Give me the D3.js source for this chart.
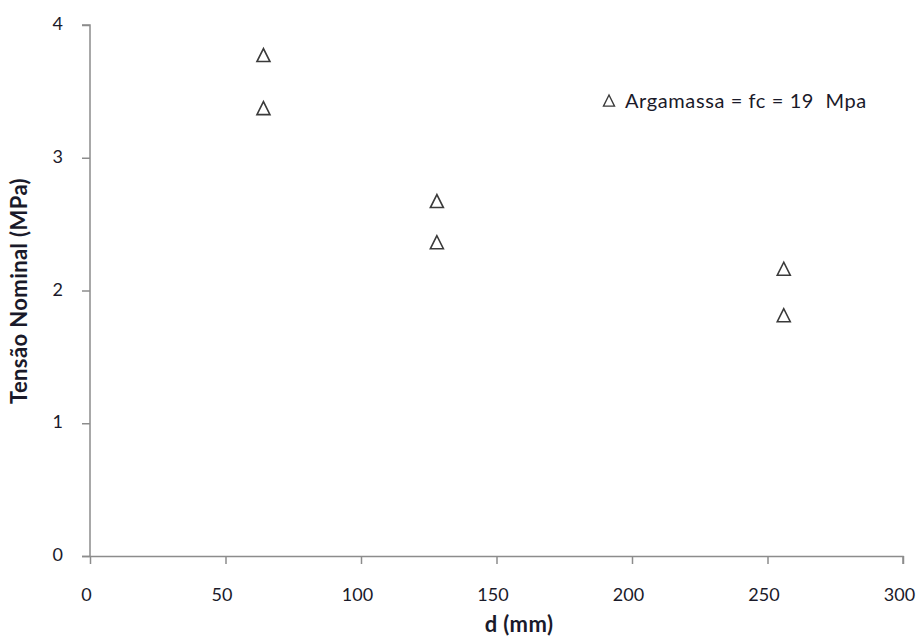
<!DOCTYPE html>
<html>
<head>
<meta charset="utf-8">
<script src="https://cdn.jsdelivr.net/npm/d3@7/dist/d3.min.js"></script>
<style>
  html, body { margin: 0; padding: 0; background: #fff; }
  svg { display: block; }
  text { font-family: Lato, "Open Sans", sans-serif; fill: #1a1a2a; }
</style>
</head>
<body>
<svg id="chart" width="918" height="637"></svg>
<script>
// Diameter d (mm) and nominal stress (MPa)
const diameters = [64, 64, 128, 128, 256, 256];
const stresses = [3.77, 3.37, 2.67, 2.36, 2.16, 1.81];
const xTicks = [0, 50, 100, 150, 200, 250, 300];
const yTicks = [0, 1, 2, 3, 4];
const seriesName = "Argamassa = fc = 19  Mpa";
const xTitle = "d (mm)";
const yTitle = "Tensão Nominal (MPa)";

const svg = d3.select("#chart");
const axisColor = "#8c8c8c";

const x = d3.scaleLinear().domain([0, 300]).range([90, 903]);
const y = d3.scaleLinear().domain([0, 4]).range([556, 25]);

// Y axis
const yAxis = svg.append("g")
  .attr("transform", `translate(${x(0)},0)`)
  .call(d3.axisLeft(y).tickValues(yTicks).tickSize(8).tickPadding(19).tickFormat(d3.format("d")));
// X axis
const xAxis = svg.append("g")
  .attr("transform", `translate(0,${y(0)})`)
  .call(d3.axisBottom(x).tickValues(xTicks).tickSize(8).tickPadding(24).tickFormat(d3.format("d")));

[xAxis, yAxis].forEach(g => {
  g.select(".domain").attr("stroke", axisColor).attr("stroke-width", 1.5);
  g.selectAll(".tick line").attr("stroke", axisColor).attr("stroke-width", 1.5);
  g.selectAll(".tick text").style("font-size", "18px").attr("fill", "#1a1a2a");
});
// Axis lines with the outer tick stubs at the origin and the ends
xAxis.select(".domain").attr("d", `M${x(0) - 8},0.5H${x(300)}V8`);
yAxis.select(".domain").attr("d", `M-8,${y(4)}H0V${y(0)}`);
xAxis.selectAll(".tick text").attr("dx", "-4");
yAxis.selectAll(".tick text").attr("dy", "0.25em");

// Triangle marker shape
const tri = d3.line()([[0, -7], [-6.5, 6], [6.5, 6]]) + "Z";

svg.append("g").selectAll("path")
  .data(diameters.map((d, i) => [d, stresses[i]]))
  .join("path")
  .attr("d", tri)
  .attr("transform", d => `translate(${x(d[0])},${y(d[1])})`)
  .attr("fill", "none")
  .attr("stroke", "#3a3a3a")
  .attr("stroke-width", 1.6)
  .attr("stroke-linejoin", "miter");

// Legend
const leg = svg.append("g").attr("transform", "translate(609,101)");
leg.append("path").attr("d", tri).attr("transform", "scale(0.85)")
  .attr("fill", "none").attr("stroke", "#3a3a3a").attr("stroke-width", 1.6);
leg.append("text").attr("x", 16).attr("y", 7)
  .style("font-size", "20px").style("letter-spacing", "0.6px").style("white-space", "pre")
  .text(seriesName);

// Axis titles
svg.append("text")
  .attr("x", 519).attr("y", 632)
  .attr("text-anchor", "middle")
  .style("font-size", "22px").style("font-weight", "bold").style("letter-spacing", "0.4px")
  .text(xTitle);
svg.append("text")
  .attr("transform", "translate(27,291) rotate(-90)")
  .attr("text-anchor", "middle")
  .style("font-size", "22px").style("font-weight", "bold").style("letter-spacing", "0.4px")
  .text(yTitle);
</script>
</body>
</html>
